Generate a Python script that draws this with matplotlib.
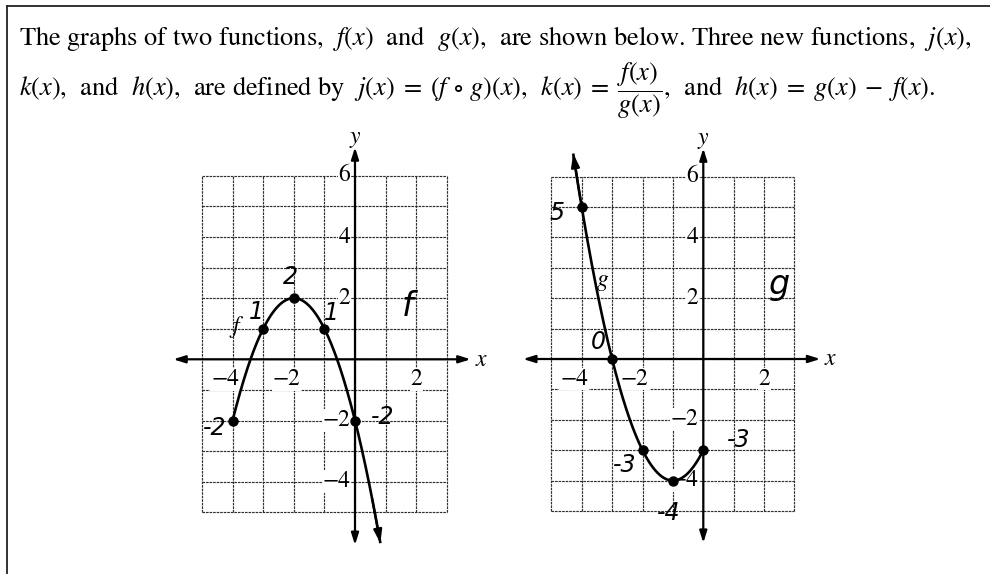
import numpy as np
import matplotlib
matplotlib.use("Agg")
import matplotlib.pyplot as plt
from matplotlib.lines import Line2D

plt.rcParams['mathtext.fontset'] = 'stix'
plt.rcParams['font.family'] = ['STIXGeneral', 'DejaVu Sans']

W, H = 990, 574

# points
f_x = [-4, -3, -2, -1, 0]
f_y = [-2, 1, 2, 1, -2]
g_x = [-4, -3, -2, -1, 0]
g_y = [5, 0, -3, -4, -3]
f_end = 0.83      # f keeps going down past x=0 (arrow)
g_start = -4.28   # g keeps going up before x=-4 (arrow)

x_ticks = [-4, -2, 2]
y_ticks = [6, 4, 2, -2, -4]
grid_x = list(range(-5, 4))
grid_y = list(range(-5, 7))

# handwritten notes: (text, x, y)
f_notes = [("1", -3.21, 1.56), ("2", -2.12, 2.70), ("1", -0.76, 1.51),
           ("-2", -4.58, -2.25), ("-2", 0.90, -1.87)]
g_notes = [("5", -4.82, 4.80), ("0", -3.45, 0.57), ("-3", -2.60, -3.50),
           ("-3", 1.15, -2.66), ("-4", -1.13, -5.07)]

line1 = (r"The graphs of two functions,  $f(x)$  and  $g(x)$,  are shown below. "
         r"Three new functions,  $j(x)$,")
line2 = (r"$k(x)$,  and  $h(x)$,  are defined by  $j(x) \;=\; (f \,\circ\, g)(x)$,  "
         r"$k(x) \;=\; \dfrac{f(x)}{g(x)}$,  and  $h(x) \;=\; g(x) \;-\; f(x)$.")

fig = plt.figure(figsize=(W / 100, H / 100), dpi=100)
fig.patch.set_facecolor('white')

# frame of the scanned box (top and left edge only)
fig.add_artist(Line2D([7 / W, 1], [1 - 6 / H, 1 - 6 / H], color='#222', lw=1.3,
                      transform=fig.transFigure))
fig.add_artist(Line2D([7 / W, 7 / W], [0, 1 - 6 / H], color='#222', lw=1.3,
                      transform=fig.transFigure))

fig.text(19 / W, 1 - 45 / H, line1, fontsize=19, va='baseline', ha='left')
fig.text(19 / W, 1 - 97 / H, line2, fontsize=19, va='baseline', ha='left')

XL = (-6.3, 4.6)
YL = (-6.5, 7.6)


def make_axes(ox, oy, s):
    left = (ox + XL[0] * s) / W
    width = (XL[1] - XL[0]) * s / W
    bottom = (H - (oy - YL[0] * s)) / H
    height = (YL[1] - YL[0]) * s / H
    ax = fig.add_axes([left, bottom, width, height])
    ax.set_xlim(*XL)
    ax.set_ylim(*YL)
    ax.axis('off')
    return ax


def draw_grid(ax, x_arrow, y_arrow):
    for gx in grid_x:
        ax.plot([gx, gx], [grid_y[0], grid_y[-1]], color='#2e2e2e', lw=0.85,
                ls=(0, (2.2, 0.8)), zorder=1)
    for gy in grid_y:
        ax.plot([grid_x[0], grid_x[-1]], [gy, gy], color='#2e2e2e', lw=0.85,
                ls=(0, (2.2, 0.8)), zorder=1)
    arrow = dict(arrowstyle='<|-|>,head_length=0.7,head_width=0.22', lw=1.6,
                 color='black', shrinkA=0, shrinkB=0)
    ax.annotate('', xy=(x_arrow[1], 0), xytext=(x_arrow[0], 0),
                arrowprops=arrow, zorder=3)
    ax.annotate('', xy=(0, y_arrow[1]), xytext=(0, y_arrow[0]),
                arrowprops=arrow, zorder=3)
    ax.text(x_arrow[1] + 0.32, 0, "x", style='italic', fontsize=17,
            ha='center', va='center')
    ax.text(0, y_arrow[1] + 0.36, "y", style='italic', fontsize=17,
            ha='center', va='center')
    box = dict(facecolor='white', edgecolor='none', pad=0.5)
    for t in x_ticks:
        lab = str(t).replace('-', '\u2212')
        dx = -0.25 if t < 0 else 0.0
        ax.text(t + dx, -0.66, lab, fontsize=17, ha='center', va='center',
                bbox=box, zorder=2)
    for t in y_ticks:
        lab = str(t).replace('-', '\u2212')
        ax.text(-0.16, t, lab, fontsize=17, ha='right', va='center',
                bbox=box, zorder=2)


def draw_curve(ax, xs, ys, x0, x1, arrow_at_end):
    coef = np.polyfit(xs, ys, 2)
    cx = np.linspace(x0, x1, 200)
    cy = np.polyval(coef, cx)
    ax.plot(cx, cy, color='black', lw=1.9, zorder=4, solid_capstyle='butt')
    if arrow_at_end:
        tip, back = (cx[-1], cy[-1]), (cx[-12], cy[-12])
    else:
        tip, back = (cx[0], cy[0]), (cx[11], cy[11])
    ax.annotate('', xy=tip, xytext=back, zorder=5,
                arrowprops=dict(arrowstyle='-|>,head_length=0.8,head_width=0.25',
                                lw=1.6, color='black', shrinkA=0, shrinkB=0))
    ax.plot(xs, ys, 'o', color='black', ms=6.5, zorder=6)


def draw_notes(ax, notes):
    for txt, x, y in notes:
        ax.text(x, y, txt, fontsize=17, family='DejaVu Sans', color='black',
                ha='center', va='center', zorder=7, style='italic')


# left graph: f
axf = make_axes(355, 359.3, 30.6)
draw_grid(axf, (-5.94, 3.78), (-6.07, 6.93))
draw_curve(axf, f_x, f_y, f_x[0], f_end, True)
axf.text(-3.89, 1.07, "f", style='italic', fontsize=17, ha='center',
         va='center', zorder=7)
draw_notes(axf, f_notes)
axf.text(1.72, 1.72, "f", fontsize=24, family='DejaVu Sans', style='italic',
         ha='center', va='center', color='black', zorder=7)

# right graph: g
axg = make_axes(703.3, 359, 30.4)
draw_grid(axg, (-5.93, 3.85), (-6.05, 6.93))
draw_curve(axg, g_x, g_y, g_start, g_x[-1], False)
axg.text(-3.31, 2.6, "g", style='italic', fontsize=17, ha='center',
         va='center', zorder=7)
draw_notes(axg, g_notes)
axg.text(2.52, 2.44, "g", fontsize=24, family='DejaVu Sans', style='italic',
         ha='center', va='center', color='black', zorder=7)

fig.savefig("out.png", dpi=100, facecolor='white')
